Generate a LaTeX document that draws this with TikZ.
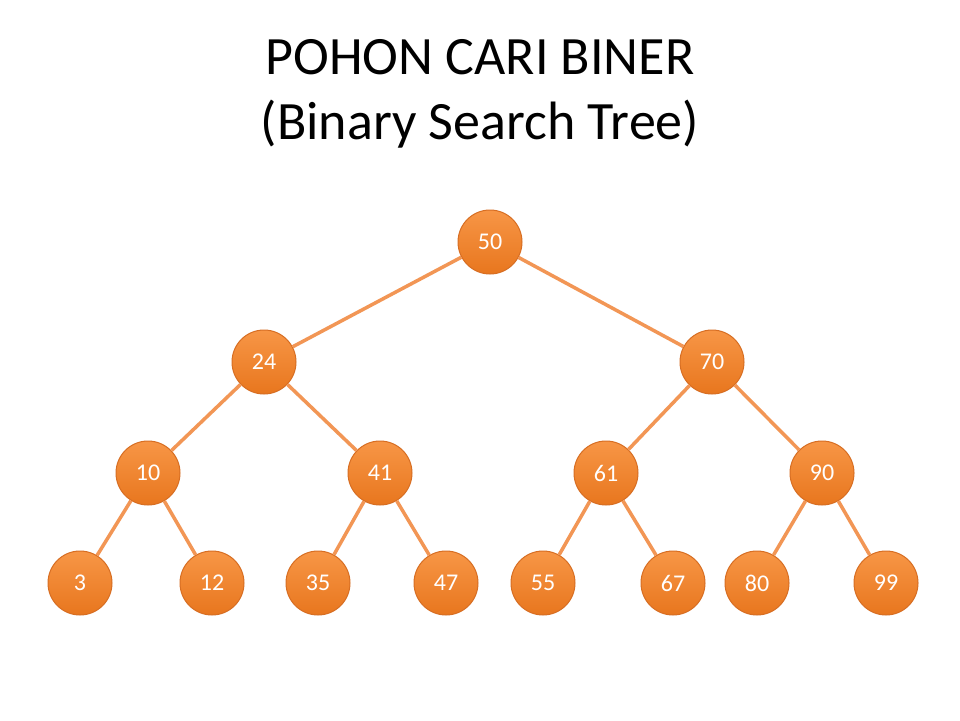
\documentclass[tikz,border=0pt]{standalone}
\usepackage{fontspec}
\setmainfont{Carlito}
\begin{document}
\begin{tikzpicture}[x=1pt,y=-1pt,
  bnode/.style={circle,minimum size=64pt,inner sep=0pt,draw=nodeborder,line width=1pt,
    top color=nodetop,bottom color=nodebot,text=white,font=\fontsize{24}{26}\selectfont},
  edge/.style={draw=edgeclr,line width=3.5pt}]
\definecolor{nodetop}{RGB}{247,150,70}
\definecolor{nodebot}{RGB}{232,118,30}
\definecolor{nodeborder}{RGB}{215,110,35}
\definecolor{edgeclr}{RGB}{242,150,85}
\useasboundingbox (0,0) rectangle (960,720);
\fill[white] (0,0) rectangle (960,720);
\node[font=\fontsize{54}{65}\selectfont,align=center] (title) at (480,94) {POHON CARI BINER\\(Binary Search Tree)};
\node[bnode] (n50) at (490,242) {50};
\node[bnode] (n24) at (264,362) {24};
\node[bnode] (n70) at (712,362) {70};
\node[bnode] (n10) at (148,473) {10};
\node[bnode] (n41) at (380,473) {41};
\node[bnode] (n61) at (606,473) {61};
\node[bnode] (n90) at (822,473) {90};
\node[bnode] (n3) at (80,583) {3};
\node[bnode] (n12) at (212,583) {12};
\node[bnode] (n35) at (318,583) {35};
\node[bnode] (n47) at (446,583) {47};
\node[bnode] (n55) at (543,583) {55};
\node[bnode] (n67) at (673,583) {67};
\node[bnode] (n80) at (757,583) {80};
\node[bnode] (n99) at (886,583) {99};
\foreach \a/\b in {n50/n24,n50/n70,n24/n10,n24/n41,n70/n61,n70/n90,n10/n3,n10/n12,n41/n35,n41/n47,n61/n55,n61/n67,n90/n80,n90/n99}
  \draw[edge] (\a) -- (\b);
\end{tikzpicture}
\end{document}
